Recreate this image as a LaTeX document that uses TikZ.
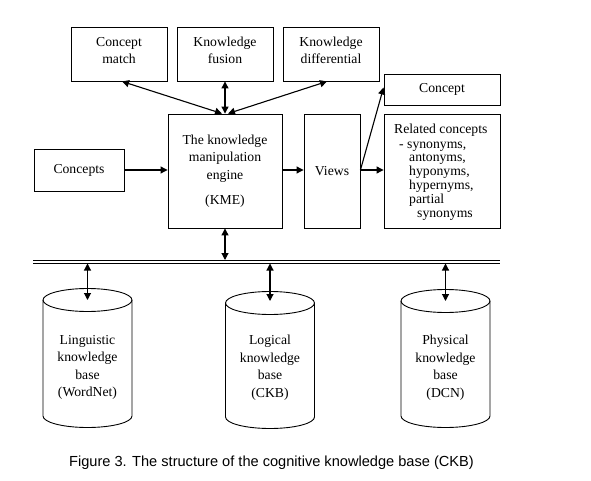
\documentclass[tikz,border=0pt]{standalone}
\usepackage{fontspec}
\setmainfont{Liberation Serif}
\newfontfamily\capfont{Liberation Sans}
\usetikzlibrary{arrows.meta}
\begin{document}
\begin{tikzpicture}[x=1pt,y=1pt,
  every node/.style={font=\fontsize{13.7}{17.5}\selectfont},
  box/.style={draw, line width=0.9pt, inner sep=0pt, align=center},
  topbox/.style={box, minimum width=96, minimum height=54, text depth=7.5pt},
  con/.style={line width=1.1pt, -{Triangle[length=7pt,width=7pt]}},
  bicon/.style={line width=1.1pt, {Triangle[length=7pt,width=7pt]}-{Triangle[length=7pt,width=7pt]}},
  cyl/.style={line width=0.9pt}]
\useasboundingbox (0,0) rectangle (591,480);
% top boxes
\node[topbox] (cm) at (119,426) {Concept\\match};
\node[topbox] (kf) at (225,426) {Knowledge\\fusion};
\node[topbox] (kd) at (331,426) {Knowledge\\differential};
% middle row
\node[box, minimum width=90, minimum height=42] (concepts) at (79,310) {Concepts};
\node[box, minimum width=114, minimum height=114] (kme) at (225,309) {The knowledge\\manipulation\\engine\\[8pt](KME)};
\node[box, minimum width=56, minimum height=114] (views) at (332,309) {Views};
\node[box, minimum width=116, minimum height=31] (concept) at (442,390.5) {Concept};
\node[box, minimum width=116, minimum height=114] (related) at (442,309) {};
\node[anchor=north west, inner sep=0pt, align=left, font=\fontsize{13.7}{13.8}\selectfont] (reltext) at (394,356.5)
 {Related concepts\\[1pt]
  \hspace*{5pt}- synonyms,\\
  \hspace*{15pt}antonyms,\\
  \hspace*{15pt}hyponyms,\\
  \hspace*{15pt}hypernyms,\\
  \hspace*{15pt}partial\\
  \hspace*{23pt}synonyms};
% connectors to top boxes
\draw[bicon] ([xshift=3]cm.south) -- ([xshift=-3]kme.north);
\draw[bicon] (kf.south) -- (kme.north);
\draw[bicon] ([xshift=-4]kd.south) -- ([xshift=3]kme.north);
% horizontal flow
\draw[con] (concepts.east) -- (concepts.east -| kme.west);
\draw[con] (kme.east |- concepts.east) -- (views.west |- concepts.east);
\draw[con] (views.east |- concepts.east) -- (related.west |- concepts.east);
\draw[con] (views.east |- concepts.east) -- ([yshift=2]concept.west);
% bus
\coordinate (busL) at (33,220);
\coordinate (busR) at (500,220);
\coordinate (busLb) at (33,216.5);
\coordinate (busRb) at (500,216.5);
\draw[line width=0.9pt] (busL) -- (busR);
\draw[line width=0.9pt] (busLb) -- (busRb);
\draw[bicon] (kme.south) -- (kme.south |- busL);
% cylinders
\coordinate (lt) at (87.5,180);
\coordinate (gt) at (270,177);
\coordinate (pt) at (445.5,179);
\foreach \cx/\yt/\yb in {87.5/180/64, 270/177/63, 445.5/179/64}{
  \draw[cyl] (\cx,\yt) ellipse [x radius=44.5, y radius=11.5];
  \draw[cyl] (\cx-44.5,\yt) -- (\cx-44.5,\yb) arc[start angle=180, end angle=360, x radius=44.5, y radius=11.5] -- (\cx+44.5,\yt);
}
\node[align=center] (ling) at (87.5,112.5) {Linguistic\\knowledge\\base\\(WordNet)};
\node[align=center] (logi) at (270,112.5) {Logical\\knowledge\\base\\(CKB)};
\node[align=center] (phys) at (445.5,112.5) {Physical\\knowledge\\base\\(DCN)};
\draw[bicon] (lt |- busLb) -- (lt);
\draw[bicon] (gt |- busLb) -- ([yshift=2]gt);
\draw[bicon] (pt |- busLb) -- (pt);
% caption
\node[font=\capfont\fontsize{14.6}{17}\selectfont] (cap) at (271.5,17) {Figure 3. The structure of the cognitive knowledge base (CKB)};
\end{tikzpicture}
\end{document}
